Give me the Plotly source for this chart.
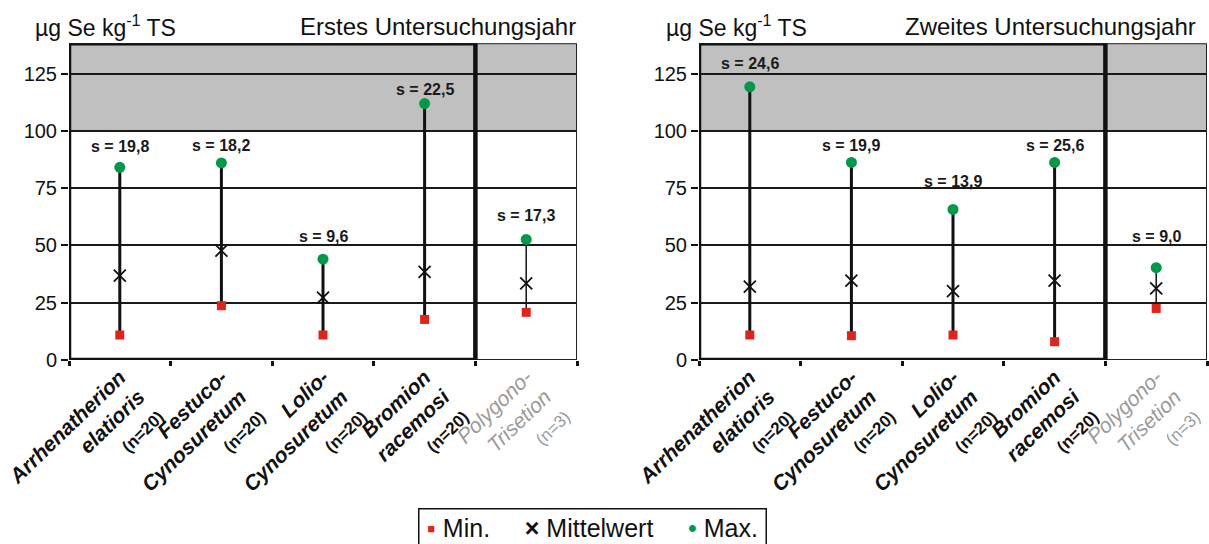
import plotly.graph_objects as go

# ---------------- data ----------------
positions = [1, 2, 3, 4, 5]
tick_labels = [
    "<b><i>Arrhenatherion</i></b><br><b><i>elatioris</i></b><br><b><span style='font-size:17px'>(n=20)</span></b>",
    "<b><i>Festuco-</i></b><br><b><i>Cynosuretum</i></b><br><b><span style='font-size:17px'>(n=20)</span></b>",
    "<b><i>Lolio-</i></b><br><b><i>Cynosuretum</i></b><br><b><span style='font-size:17px'>(n=20)</span></b>",
    "<b><i>Bromion</i></b><br><b><i>racemosi</i></b><br><b><span style='font-size:17px'>(n=20)</span></b>",
    "<span style='color:#9a9a9a'><i>Polygono-</i></span><br><span style='color:#9a9a9a'><i>Trisetion</i></span><br><span style='color:#9a9a9a;font-size:17px'>(n=3)</span>",
]

y1_min = [10.9, 23.7, 10.9, 17.7, 20.8]
y1_mean = [36.8, 47.7, 27.2, 38.5, 33.4]
y1_max = [84.1, 86.0, 44.0, 111.9, 52.6]
y1_s = ["s = 19,8", "s = 18,2", "s = 9,6", "s = 22,5", "s = 17,3"]
y1_s_pos = [93.0, 93.7, 53.8, 118.0, 63.2]

y2_min = [10.9, 10.6, 10.9, 8.0, 22.5]
y2_mean = [32.0, 34.6, 30.1, 34.6, 31.3]
y2_max = [119.2, 86.2, 65.7, 86.2, 40.3]
y2_s = ["s = 24,6", "s = 19,9", "s = 13,9", "s = 25,6", "s = 9,0"]
y2_s_pos = [129.4, 93.4, 77.7, 93.4, 53.8]

panel_titles = ["Erstes Untersuchungsjahr", "Zweites Untersuchungsjahr"]
y_title = "µg Se kg<sup>-1</sup> TS"
y_ticks = [0, 25, 50, 75, 100, 125]
legend_names = ["Min.", "Mittelwert", "Max."]

# ---------------- styling ----------------
FONT = "Liberation Sans, Arial, sans-serif"
RED = "#e2231a"
GREEN = "#00994a"
Y_MAX = 138.2
X_RANGE = [0.5, 5.5]

fig = go.Figure()

panels = [
    ("x", "y", y1_min, y1_mean, y1_max, y1_s, y1_s_pos),
    ("x2", "y2", y2_min, y2_mean, y2_max, y2_s, y2_s_pos),
]

for pi, (xa, ya, mn, me, mx, sl, sp) in enumerate(panels):
    # vertical range lines
    for i, p in enumerate(positions):
        fig.add_trace(go.Scatter(
            x=[p, p], y=[mn[i], mx[i]], mode="lines",
            line=dict(color="#111111", width=3 if i < 4 else 1.5),
            xaxis=xa, yaxis=ya, showlegend=False, hoverinfo="skip"))
    fig.add_trace(go.Scatter(
        x=positions, y=mn, mode="markers", name=legend_names[0],
        marker=dict(symbol="square", color=RED, size=9),
        xaxis=xa, yaxis=ya, showlegend=False))
    fig.add_trace(go.Scatter(
        x=positions, y=me, mode="markers", name=legend_names[1],
        marker=dict(symbol="x-thin-open", color="#111111", size=12,
                    line=dict(width=1.8, color="#111111")),
        xaxis=xa, yaxis=ya, showlegend=False))
    fig.add_trace(go.Scatter(
        x=positions, y=mx, mode="markers", name=legend_names[2],
        marker=dict(symbol="circle", color=GREEN, size=11),
        xaxis=xa, yaxis=ya, showlegend=False))
    for i, p in enumerate(positions):
        fig.add_annotation(x=p, y=sp[i], xref=xa, yref=ya, text="<b>" + sl[i] + "</b>",
                           showarrow=False, font=dict(family=FONT, size=16, color="#1a1a1a"),
                           xanchor="center", yanchor="middle")
    # gray band above 100
    fig.add_shape(type="rect", xref=xa, yref=ya, x0=X_RANGE[0], x1=X_RANGE[1], y0=100, y1=Y_MAX,
                  fillcolor="#c0c0c0", line=dict(width=0), layer="below")
    # thin outer frame
    fig.add_shape(type="rect", xref=xa, yref=ya, x0=X_RANGE[0], x1=X_RANGE[1], y0=0, y1=Y_MAX,
                  line=dict(color="#222222", width=2), layer="above")
    # thick frame around first four communities
    fig.add_shape(type="rect", xref=xa, yref=ya, x0=X_RANGE[0], x1=4.5, y0=0, y1=Y_MAX,
                  line=dict(color="#111111", width=4.5), layer="above")

axis_common_x = dict(
    range=X_RANGE, tickvals=positions, ticktext=tick_labels, tickangle=-44,
    ticks="", showgrid=False, zeroline=False, showline=False, automargin=False,
    tickfont=dict(family=FONT, size=21, color="#111111"),
    minor=dict(tickvals=[0.5, 1.5, 2.5, 3.5, 4.5, 5.5], ticks="outside", ticklen=5,
               tickwidth=3, tickcolor="#111111", showgrid=False),
)
axis_common_y = dict(
    range=[0, Y_MAX], tickvals=y_ticks, ticks="outside", ticklen=7, tickwidth=2,
    tickcolor="#111111", showgrid=True, gridcolor="#1a1a1a", gridwidth=1.5,
    zeroline=False, showline=False, automargin=False,
    tickfont=dict(family=FONT, size=20, color="#111111"),
)

bottom = 1 - 360 / 544
top = 1 - 43.3 / 544
fig.update_layout(
    width=1209, height=544,
    margin=dict(l=0, r=0, t=0, b=0),
    paper_bgcolor="white", plot_bgcolor="white",
    font=dict(family=FONT, color="#111111"),
    showlegend=False,
    xaxis=dict(domain=[69 / 1209, 577 / 1209], anchor="y", **axis_common_x),
    xaxis2=dict(domain=[699 / 1209, 1207 / 1209], anchor="y2", **axis_common_x),
    yaxis=dict(domain=[bottom, top], anchor="x", **axis_common_y),
    yaxis2=dict(domain=[bottom, top], anchor="x2", **axis_common_y),
)

# legend box (drawn as a bordered text annotation so it does not shrink the plots)
NB = "\u00a0"
legend_text = (
    "<span style='color:%s'>▪</span>%s%s%s"
    "<b>×</b>%s%s%s"
    "<span style='color:%s'>•</span>%s%s"
) % (RED, NB, legend_names[0], NB * 5,
     NB, legend_names[1], NB * 5,
     GREEN, NB, legend_names[2])
fig.add_annotation(x=592 / 1209, y=1 - 508 / 544, xref="paper", yref="paper", text=legend_text,
                   showarrow=False, xanchor="center", yanchor="top",
                   font=dict(family=FONT, size=25, color="#111111"),
                   width=340, height=30, align="center", valign="middle",
                   bordercolor="#111111", borderwidth=1.5, borderpad=3, bgcolor="white")

# axis titles and panel titles
fig.add_annotation(x=33 / 1209, y=1 - 26 / 544, xref="paper", yref="paper", text=y_title,
                   showarrow=False, xanchor="left", yanchor="middle",
                   font=dict(family=FONT, size=23, color="#111111"))
fig.add_annotation(x=664 / 1209, y=1 - 26 / 544, xref="paper", yref="paper", text=y_title,
                   showarrow=False, xanchor="left", yanchor="middle",
                   font=dict(family=FONT, size=23, color="#111111"))
fig.add_annotation(x=578 / 1209, y=1 - 26 / 544, xref="paper", yref="paper", text=panel_titles[0],
                   showarrow=False, xanchor="right", yanchor="middle",
                   font=dict(family=FONT, size=24, color="#111111"))
fig.add_annotation(x=1198 / 1209, y=1 - 26 / 544, xref="paper", yref="paper", text=panel_titles[1],
                   showarrow=False, xanchor="right", yanchor="middle",
                   font=dict(family=FONT, size=24, color="#111111"))

fig.write_html("out.html")
